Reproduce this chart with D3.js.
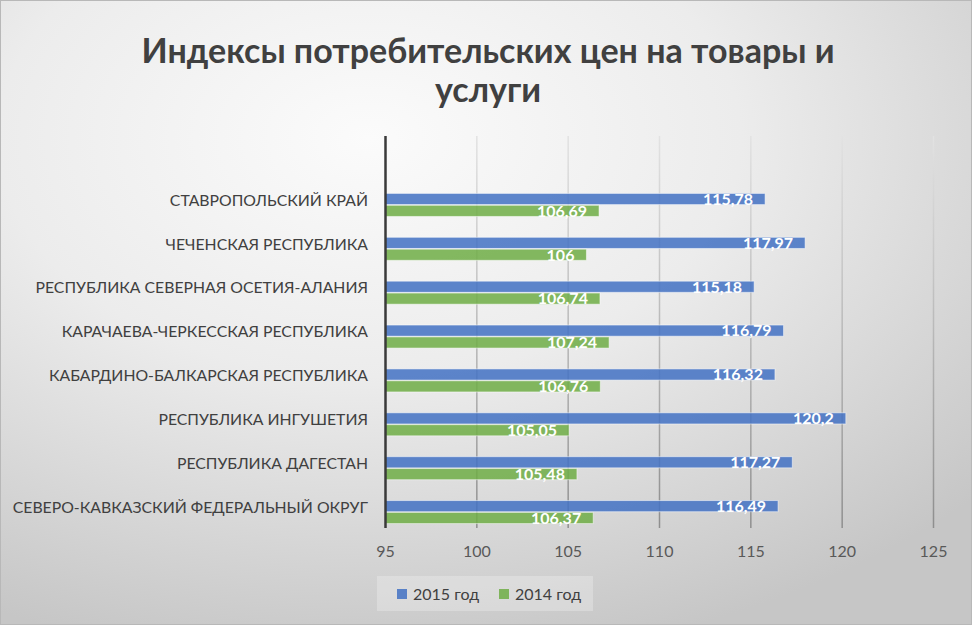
<!DOCTYPE html>
<html>
<head>
<meta charset="utf-8">
<script src="https://cdn.jsdelivr.net/npm/d3@7"></script>
<style>
  body { margin: 0; background: #fff; }
  text { font-family: Lato, "Noto Sans", sans-serif; }
</style>
</head>
<body>
<div id="chart"></div>
<script>
// data, top to bottom as shown
let categories = [
  "СТАВРОПОЛЬСКИЙ КРАЙ",
  "ЧЕЧЕНСКАЯ РЕСПУБЛИКА",
  "РЕСПУБЛИКА СЕВЕРНАЯ ОСЕТИЯ-АЛАНИЯ",
  "КАРАЧАЕВА-ЧЕРКЕССКАЯ РЕСПУБЛИКА",
  "КАБАРДИНО-БАЛКАРСКАЯ РЕСПУБЛИКА",
  "РЕСПУБЛИКА ИНГУШЕТИЯ",
  "РЕСПУБЛИКА ДАГЕСТАН",
  "СЕВЕРО-КАВКАЗСКИЙ ФЕДЕРАЛЬНЫЙ ОКРУГ"
];
let values2015 = [115.78, 117.97, 115.18, 116.79, 116.32, 120.2, 117.27, 116.49];
let values2014 = [106.69, 106, 106.74, 107.24, 106.76, 105.05, 105.48, 106.37];
let seriesNames = ["2015 год", "2014 год"];
let seriesColors = ["#4472c4", "#70ad47"];
let xTicks = [95, 100, 105, 110, 115, 120, 125];
let titleLines = ["Индексы потребительских цен на товары и", "услуги"];

let W = 972, H = 625;
let plotTop = 136, plotBottom = 528;

let svg = d3.select("#chart").append("svg")
  .attr("width", W).attr("height", H);

let defs = svg.append("defs");
let bg = defs.append("radialGradient").attr("id", "bg")
  .attr("cx", "38%").attr("cy", "22%").attr("r", "85%");
bg.append("stop").attr("offset", "0%").attr("stop-color", "#fbfbfb");
bg.append("stop").attr("offset", "45%").attr("stop-color", "#ececec");
bg.append("stop").attr("offset", "100%").attr("stop-color", "#c6c6c6");

let gl = defs.append("linearGradient").attr("id", "grid")
  .attr("gradientUnits", "userSpaceOnUse")
  .attr("x1", 0).attr("y1", plotTop).attr("x2", 0).attr("y2", plotBottom);
gl.append("stop").attr("offset", "0%").attr("stop-color", "#e2e2e2");
gl.append("stop").attr("offset", "100%").attr("stop-color", "#8e8e8e");

svg.append("rect").attr("x", 0.5).attr("y", 0.5)
  .attr("width", W - 1).attr("height", H - 1)
  .attr("fill", "url(#bg)").attr("stroke", "#b8b8b8");

// title
svg.append("g").selectAll("text").data(titleLines).enter().append("text")
  .attr("x", 488).attr("y", (d, i) => 63 + i * 39)
  .attr("text-anchor", "middle")
  .attr("font-size", 34).attr("font-weight", "bold")
  .attr("fill", "#404040")
  .text(d => d);

let x = d3.scaleLinear().domain([95, 125]).range([385.5, 933.5]);
let y = d3.scaleBand().domain(categories).range([183, 534]);
let sub = d3.scaleBand().domain(seriesNames).range([0, y.bandwidth()])
  .paddingInner(0.06).paddingOuter(0.88);

// gridlines
svg.append("g").selectAll("line").data(xTicks.slice(1)).enter().append("line")
  .attr("x1", d => x(d)).attr("x2", d => x(d))
  .attr("y1", plotTop).attr("y2", plotBottom)
  .attr("stroke", "url(#grid)").attr("stroke-width", 1.5);

// bars
let rows = categories.map((c, i) => ({cat: c, vals: [values2015[i], values2014[i]]}));
let groups = svg.append("g").selectAll("g").data(rows).enter().append("g")
  .attr("transform", d => "translate(0," + y(d.cat) + ")");

groups.selectAll("rect")
  .data(d => d.vals.map((v, j) => ({v: v, s: seriesNames[j], c: seriesColors[j]})))
  .enter().append("rect")
  .attr("x", x(95))
  .attr("y", d => sub(d.s))
  .attr("width", d => x(d.v) - x(95))
  .attr("height", sub.bandwidth())
  .attr("fill", d => d.c).attr("fill-opacity", 0.86)
  .attr("stroke", "#ffffff").attr("stroke-opacity", 0.5).attr("stroke-width", 1);

groups.selectAll("text.lbl")
  .data(d => d.vals.map((v, j) => ({v: v, s: seriesNames[j]})))
  .enter().append("text").attr("class", "lbl")
  .attr("x", d => x(d.v) - 12)
  .attr("y", d => sub(d.s) + sub.bandwidth() / 2)
  .attr("dy", "0.36em")
  .attr("text-anchor", "end")
  .attr("font-size", 16).attr("font-weight", "bold")
  .attr("fill", "#ffffff")
  .text(d => String(d.v).replace(".", ","));

// value axis line
svg.append("line")
  .attr("x1", x(95)).attr("x2", x(95))
  .attr("y1", plotTop).attr("y2", plotBottom)
  .attr("stroke", "#3a3a3a").attr("stroke-width", 2.5);

// category labels
svg.append("g").selectAll("text").data(categories).enter().append("text")
  .attr("x", 368)
  .attr("y", d => y(d) + y.bandwidth() / 2 - 5)
  .attr("dy", "0.36em")
  .attr("text-anchor", "end")
  .attr("font-size", 15.8).attr("fill", "#404040")
  .text(d => d);

// x tick labels
svg.append("g").selectAll("text").data(xTicks).enter().append("text")
  .attr("x", d => x(d)).attr("y", 551)
  .attr("dy", "0.36em")
  .attr("text-anchor", "middle")
  .attr("font-size", 16).attr("fill", "#595959")
  .text(d => d);

// legend
let lg = svg.append("g");
lg.append("rect").attr("x", 377).attr("y", 576).attr("width", 216).attr("height", 35)
  .attr("fill", "#ffffff").attr("fill-opacity", 0.25);
let items = lg.selectAll("g").data(seriesNames).enter().append("g")
  .attr("transform", (d, i) => "translate(" + (397 + i * 102) + ",589)");
items.append("rect").attr("width", 10).attr("height", 10)
  .attr("fill", (d, i) => seriesColors[i]).attr("fill-opacity", 0.86);
items.append("text").attr("x", 16).attr("y", 5).attr("dy", "0.36em")
  .attr("font-size", 16).attr("fill", "#404040")
  .text(d => d);
</script>
</body>
</html>
